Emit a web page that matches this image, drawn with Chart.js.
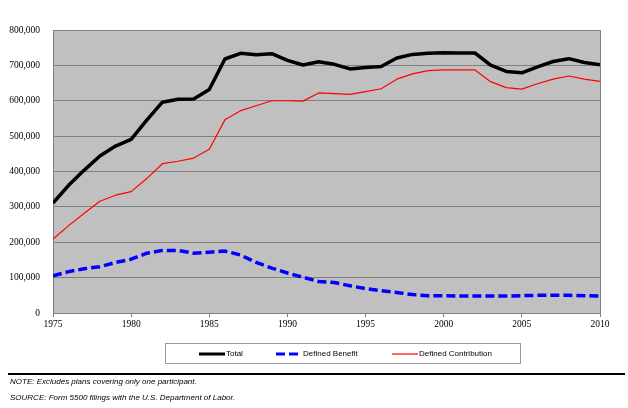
<!DOCTYPE html>
<html>
<head>
<meta charset="utf-8">
<script src="https://cdn.jsdelivr.net/npm/chart.js@4"></script>
<style>
  body { margin: 0; background: #fff; }
  #wrap { position: relative; width: 628px; height: 408px; }
  #myChart { position: absolute; left: 0; top: 0; }
  #legend {
    position: absolute; left: 165px; top: 343px; width: 354px; height: 19px;
    border: 1px solid #9a9a9a; font: 8px "Liberation Sans", Arial, sans-serif; color: #000;
  }
  .item { position: absolute; top: 0; height: 19px; display: flex; align-items: center; }
  .item svg { margin-right: 1px; }
  #rule { position: absolute; left: 8px; top: 373px; width: 617px; height: 2px; background: #000; }
  .note { position: absolute; left: 10px; font: italic 8px "Liberation Sans", Arial, sans-serif; color: #000; }
</style>
</head>
<body>
<div id="wrap">
  <canvas id="myChart" width="628" height="408"></canvas>
  <div id="legend"></div>
  <div id="rule"></div>
  <div class="note" style="top:377px">NOTE: Excludes plans covering only one participant.</div>
  <div class="note" style="top:393px">SOURCE: Form 5500 filings with the U.S. Department of Labor.</div>
</div>
<script>
let years = [1975, 1976, 1977, 1978, 1979, 1980, 1981, 1982, 1983, 1984, 1985, 1986,
  1987, 1988, 1989, 1990, 1991, 1992, 1993, 1994, 1995, 1996, 1997, 1998,
  1999, 2000, 2001, 2002, 2003, 2004, 2005, 2006, 2007, 2008, 2009, 2010];
let totalPlans = [311000, 361000, 404000, 444000, 472000, 491000, 545000, 596000, 604000, 605000, 632000, 718000,
  734000, 730000, 733000, 714000, 701000, 710000, 703000, 690000, 694000, 697000, 721000, 731000,
  734000, 736000, 735000, 735000, 701000, 683000, 679000, 696000, 711000, 719000, 708000, 702000];
let dbPlans = [105000, 117000, 125000, 131000, 143000, 152000, 169000, 177000, 177000, 169000, 172000, 175000,
  164000, 143000, 127000, 113000, 101000, 89000, 86000, 77000, 69000, 63000, 58000, 52000,
  49000, 49000, 48000, 48000, 48000, 48000, 49000, 50000, 50000, 50000, 49000, 48000];
let dcPlans = [209000, 247000, 282000, 316000, 333000, 343000, 380000, 422000, 429000, 438000, 463000, 546000,
  572000, 586000, 600000, 600000, 599000, 622000, 620000, 618000, 626000, 634000, 661000, 676000,
  685000, 687000, 687000, 687000, 654000, 637000, 633000, 648000, 661000, 670000, 661000, 655000];
let xTicks = [1975, 1980, 1985, 1990, 1995, 2000, 2005, 2010];

function toPoints(values) {
  return years.map((yr, i) => ({ x: yr, y: values[i] }));
}

const series = [
  { label: 'Total', data: toPoints(totalPlans), borderColor: '#000000', borderWidth: 3.5, borderDash: [] },
  { label: 'Defined Benefit', data: toPoints(dbPlans), borderColor: '#0000ff', borderWidth: 3.5, borderDash: [9, 4] },
  { label: 'Defined Contribution', data: toPoints(dcPlans), borderColor: '#ff0000', borderWidth: 1.2, borderDash: [] }
];

// gray plot background and frame
const plotBox = {
  id: 'plotBox',
  beforeDraw(chart) {
    const a = chart.chartArea;
    const ctx = chart.ctx;
    ctx.save();
    ctx.fillStyle = '#c0c0c0';
    ctx.fillRect(a.left, a.top, a.right - a.left, a.bottom - a.top);
    ctx.restore();
  },
  beforeDatasetsDraw(chart) {
    const a = chart.chartArea;
    const ctx = chart.ctx;
    ctx.save();
    ctx.strokeStyle = '#808080';
    ctx.lineWidth = 1;
    ctx.strokeRect(a.left + 0.5, a.top + 0.5, a.right - a.left, a.bottom - a.top);
    ctx.restore();
  }
};

const config = {
  type: 'line',
  data: {
    datasets: series.map(s => ({
      label: s.label,
      data: s.data,
      borderColor: s.borderColor,
      backgroundColor: s.borderColor,
      borderWidth: s.borderWidth,
      borderDash: s.borderDash,
      borderCapStyle: 'butt',
      borderJoinStyle: 'round',
      pointRadius: 0,
      tension: 0,
      fill: false
    }))
  },
  options: {
    responsive: false,
    animation: false,
    devicePixelRatio: 1,
    layout: { padding: { left: 0, top: 30, right: 28, bottom: 75 } },
    plugins: { legend: { display: false }, tooltip: { enabled: false } },
    scales: {
      x: {
        type: 'linear',
        min: 1975,
        max: 2010,
        afterBuildTicks: (scale) => { scale.ticks = xTicks.map(v => ({ value: v })); },
        afterFit: (scale) => { scale.height = 20; },
        grid: { drawOnChartArea: false, drawTicks: true, tickLength: 4, color: '#808080' },
        border: { color: '#808080', width: 1 },
        ticks: {
          color: '#000',
          padding: 2,
          maxRotation: 0,
          font: { family: '"Liberation Serif", "Times New Roman", serif', size: 9.5 },
          callback: (v) => String(v)
        }
      },
      y: {
        min: 0,
        max: 800000,
        afterFit: (scale) => { scale.width = 53; },
        grid: { color: '#808080', drawTicks: false },
        border: { color: '#808080', width: 1 },
        ticks: {
          stepSize: 100000,
          color: '#000',
          padding: 13,
          font: { family: '"Liberation Serif", "Times New Roman", serif', size: 9.5 },
          callback: (v) => v.toLocaleString('en-US')
        }
      }
    }
  },
  plugins: [plotBox]
};

var myChart = new Chart(document.getElementById('myChart'), config);

// legend built from the datasets
const legendSpots = [33, 110, 226];
let legendDiv = document.getElementById('legend');
series.forEach((s, i) => {
  let item = document.createElement('div');
  item.className = 'item';
  item.style.left = legendSpots[i] + 'px';
  let dash = s.borderDash.length ? `stroke-dasharray="${s.borderDash.join(',')}"` : '';
  let w = Math.min(s.borderWidth, 3);
  item.innerHTML = `<svg width="26" height="6"><line x1="0" y1="3" x2="26" y2="3" stroke="${s.borderColor}" stroke-width="${w}" ${dash}/></svg><span>${s.label}</span>`;
  legendDiv.append(item);
});
</script>
</body>
</html>
